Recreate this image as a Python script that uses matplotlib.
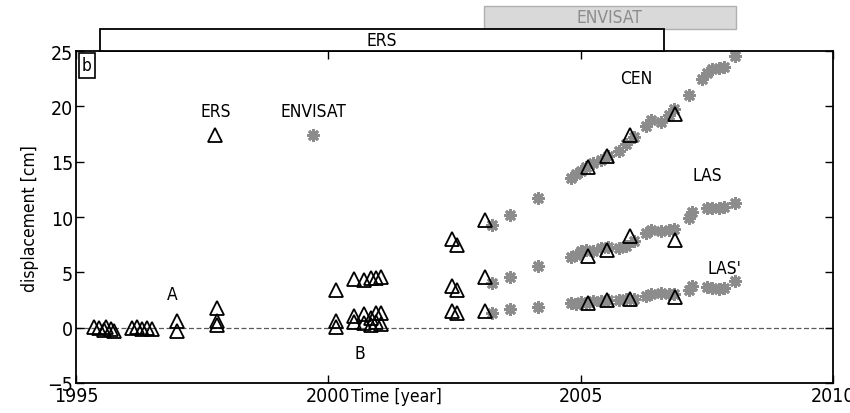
import matplotlib
matplotlib.use("Agg")
import matplotlib.pyplot as plt
from matplotlib.patches import Rectangle

plt.rcParams["font.family"] = ["DejaVu Sans"]
plt.rcParams["font.stretch"] = "condensed"

# ERS triangles (year, displacement cm)
ers_years = [1995.35, 1995.45, 1995.55, 1995.6, 1995.7, 1995.75,
             1996.1, 1996.2, 1996.3, 1996.4, 1996.5,
             1997.0, 1997.0,
             1997.8, 1997.8, 1997.8,
             2000.15, 2000.15, 2000.15,
             2000.5, 2000.7, 2000.85, 2000.95, 2001.05,
             2000.5, 2000.7, 2000.85, 2000.95, 2001.05,
             2000.5, 2000.7, 2000.85, 2000.95, 2001.05,
             2002.45, 2002.55, 2002.45, 2002.55, 2002.45, 2002.55,
             2003.1, 2003.1, 2003.1,
             2005.15, 2005.52, 2005.98, 2006.87,
             2005.15, 2005.52, 2005.98, 2006.87,
             2005.15, 2005.52, 2005.98, 2006.87]
ers_disp = [0.1, 0.0, -0.2, 0.1, -0.1, -0.3,
            0.0, 0.1, -0.1, 0.0, -0.1,
            0.6, -0.3,
            1.8, 0.6, 0.2,
            3.4, 0.6, 0.1,
            4.4, 4.3, 4.5, 4.5, 4.6,
            1.1, 1.2, 0.9, 1.3, 1.3,
            0.5, 0.4, 0.2, 0.5, 0.3,
            8.0, 7.5, 3.8, 3.4, 1.5, 1.3,
            9.7, 4.6, 1.5,
            14.5, 15.5, 17.4, 19.3,
            6.5, 7.0, 8.3, 7.9,
            2.2, 2.5, 2.6, 2.8]

# ENVISAT asterisks, one list per profile
cen_years = [2003.25, 2003.6, 2004.15, 2004.8, 2004.9, 2005.0, 2005.1, 2005.25,
             2005.4, 2005.55, 2005.75, 2005.9, 2006.05, 2006.3, 2006.4, 2006.6,
             2006.75, 2006.85, 2007.15, 2007.4, 2007.5, 2007.6, 2007.75, 2007.85, 2008.05]
cen_disp = [9.3, 10.2, 11.7, 13.5, 13.9, 14.2, 14.5, 14.9,
            15.2, 15.5, 16.0, 16.6, 17.2, 18.2, 18.8, 18.6,
            19.2, 19.8, 21.0, 22.5, 23.0, 23.4, 23.5, 23.6, 24.6]

las_years = [2003.25, 2003.6, 2004.15, 2004.8, 2004.9, 2005.0, 2005.1, 2005.25,
             2005.4, 2005.55, 2005.75, 2005.9, 2006.05, 2006.3, 2006.4, 2006.6,
             2006.75, 2006.85, 2007.15, 2007.2, 2007.5, 2007.6, 2007.75, 2007.85, 2008.05]
las_disp = [4.0, 4.6, 5.6, 6.4, 6.6, 6.9, 7.0, 6.9,
            7.2, 7.3, 7.2, 7.4, 7.8, 8.6, 8.8, 8.7,
            8.8, 8.9, 9.9, 10.5, 10.8, 10.8, 10.8, 10.9, 11.3]

lasp_years = [2003.25, 2003.6, 2004.15, 2004.8, 2004.9, 2005.0, 2005.1, 2005.25,
              2005.4, 2005.55, 2005.75, 2005.9, 2006.05, 2006.3, 2006.4, 2006.6,
              2006.75, 2006.85, 2007.15, 2007.2, 2007.5, 2007.6, 2007.75, 2007.85, 2008.05]
lasp_disp = [1.3, 1.7, 1.9, 2.2, 2.1, 2.3, 2.2, 2.4,
             2.4, 2.5, 2.5, 2.6, 2.6, 2.9, 3.0, 3.1,
             3.0, 3.0, 3.4, 3.8, 3.7, 3.6, 3.5, 3.6, 4.2]

# mission coverage bars drawn above the axes
ers_span = (1995.48, 2006.65)
envisat_span = (2003.08, 2008.07)

fig = plt.figure(figsize=(8.5, 4.14), dpi=100)
ax = fig.add_axes([0.0894, 0.0725, 0.8906, 0.8015])

ax.axhline(0, color="0.35", linestyle="--", linewidth=0.9, dashes=(4, 2), zorder=1)

star_kw = dict(linestyle="none", marker=(8, 2, 0), markersize=9,
               markeredgecolor="0.55", markeredgewidth=2.0, zorder=2)
ax.plot(cen_years, cen_disp, **star_kw)
ax.plot(las_years, las_disp, **star_kw)
ax.plot(lasp_years, lasp_disp, **star_kw)

tri_kw = dict(linestyle="none", marker="^", markersize=10,
              markerfacecolor="none", markeredgecolor="black",
              markeredgewidth=1.3, zorder=3)
ax.plot(ers_years, ers_disp, **tri_kw)

# key written inside the plot
ax.plot([1997.76], [17.4], **tri_kw)
ax.plot([1999.7], [17.4], **star_kw)
lab = dict(ha="center", va="center", fontsize=12.5)
ax.text(1997.76, 19.6, "ERS", **lab)
ax.text(1999.7, 19.6, "ENVISAT", **lab)

ax.text(1996.9, 3.0, "A", **lab)
ax.text(2000.63, -2.3, "B", **lab)
ax.text(2006.1, 22.6, "CEN", **lab)
ax.text(2007.5, 13.8, "LAS", **lab)
ax.text(2007.85, 5.4, "LAS'", **lab)

ax.text(0.008, 0.985, "b", transform=ax.transAxes, ha="left", va="top",
        fontsize=12.5, bbox=dict(boxstyle="square,pad=0.2", facecolor="white",
                                 edgecolor="black", linewidth=1.2))

ax.set_xlim(1995, 2010)
ax.set_ylim(-5, 25)
ax.set_xticks([1995, 2000, 2005, 2010])
ax.set_yticks([-5, 0, 5, 10, 15, 20, 25])
ax.set_yticklabels(["\u22125", "0", "5", "10", "15", "20", "25"])
ax.tick_params(direction="in", top=True, right=True, length=6, width=1,
               labelsize=14, pad=2)
for s in ax.spines.values():
    s.set_linewidth(1.3)

ax.set_ylabel("displacement [cm]", fontsize=12.5, labelpad=6)
ax.text(2001.35, -5.4, "Time [year]", ha="center", va="top", fontsize=12.5)

ax.add_patch(Rectangle((envisat_span[0], 27.0), envisat_span[1] - envisat_span[0], 2.1,
                       facecolor="#d9d9d9", edgecolor="#b0b0b0", linewidth=1.0,
                       clip_on=False, zorder=4))
ax.text(sum(envisat_span) / 2, 28.05, "ENVISAT", ha="center", va="center",
        fontsize=12.5, color="0.55", clip_on=False, zorder=5)
ax.add_patch(Rectangle((ers_span[0], 25.0), ers_span[1] - ers_span[0], 2.0,
                       facecolor="white", edgecolor="black", linewidth=1.3,
                       clip_on=False, zorder=5))
ax.text(sum(ers_span) / 2, 26.0, "ERS", ha="center", va="center",
        fontsize=12.5, clip_on=False, zorder=6)

fig.savefig("out.png", dpi=100)
